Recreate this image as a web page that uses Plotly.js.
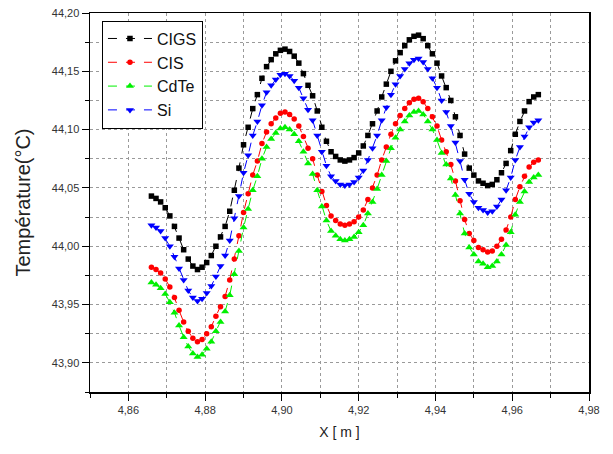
<!DOCTYPE html>
<html>
<head>
<meta charset="utf-8">
<script src="https://cdn.plot.ly/plotly-3.0.1.min.js"></script>
<style>html,body{margin:0;padding:0;background:#fff;}#chart{width:613px;height:454px;}</style>
</head>
<body>
<div id="chart"></div>
<script>
const xPos = [4.8660,4.8672,4.8684,4.8696,4.8708,4.8720,4.8732,4.8744,4.8756,4.8768,
4.8780,4.8792,4.8804,4.8816,4.8828,4.8840,4.8852,4.8864,4.8876,4.8888,
4.8900,4.8912,4.8924,4.8936,4.8948,4.8960,4.8972,4.8984,4.8996,4.9008,
4.9020,4.9032,4.9044,4.9056,4.9068,4.9080,4.9092,4.9104,4.9116,4.9128,
4.9140,4.9152,4.9164,4.9176,4.9188,4.9200,4.9212,4.9224,4.9236,4.9248,
4.9260,4.9272,4.9284,4.9296,4.9308,4.9320,4.9332,4.9344,4.9356,4.9368,
4.9380,4.9392,4.9404,4.9416,4.9428,4.9440,4.9452,4.9464,4.9476,4.9488,
4.9500,4.9512,4.9524,4.9536,4.9548,4.9560,4.9572,4.9584,4.9596,4.9608,
4.9620,4.9632,4.9644,4.9656,4.9668];

const tCIGS = [44.043,44.041,44.038,44.033,44.026,44.017,44.007,43.997,43.989,43.983,
43.980,43.982,43.986,43.992,44.000,44.008,44.017,44.030,44.048,44.067,
44.087,44.102,44.118,44.130,44.144,44.154,44.160,44.165,44.168,44.169,
44.167,44.163,44.157,44.148,44.138,44.129,44.116,44.102,44.090,44.081,
44.077,44.074,44.073,44.074,44.076,44.080,44.086,44.095,44.105,44.116,
44.128,44.139,44.150,44.159,44.166,44.172,44.177,44.180,44.181,44.178,
44.172,44.165,44.157,44.146,44.136,44.125,44.111,44.095,44.079,44.067,
44.061,44.056,44.054,44.052,44.053,44.057,44.063,44.071,44.082,44.096,
44.107,44.116,44.124,44.128,44.130];

const tCIS = [43.982,43.980,43.977,43.972,43.965,43.956,43.945,43.935,43.927,43.921,
43.918,43.920,43.925,43.931,43.940,43.948,43.957,43.971,43.989,44.009,
44.029,44.045,44.061,44.073,44.088,44.098,44.105,44.110,44.114,44.115,
44.113,44.109,44.103,44.094,44.084,44.075,44.061,44.047,44.035,44.026,
44.022,44.019,44.018,44.019,44.021,44.025,44.031,44.040,44.050,44.061,
44.074,44.085,44.096,44.105,44.112,44.118,44.123,44.126,44.127,44.124,
44.118,44.111,44.103,44.091,44.081,44.070,44.056,44.039,44.023,44.011,
44.005,43.999,43.997,43.995,43.996,44.000,44.006,44.014,44.025,44.040,
44.051,44.060,44.068,44.072,44.074];

const tCdTe = [43.969,43.967,43.964,43.959,43.952,43.943,43.932,43.922,43.914,43.908,
43.905,43.907,43.912,43.918,43.927,43.935,43.944,43.958,43.976,43.996,
44.016,44.032,44.048,44.060,44.075,44.085,44.092,44.097,44.101,44.102,
44.100,44.096,44.090,44.081,44.071,44.062,44.048,44.034,44.022,44.013,
44.009,44.006,44.005,44.006,44.008,44.012,44.018,44.028,44.038,44.049,
44.061,44.073,44.084,44.093,44.100,44.107,44.112,44.115,44.116,44.113,
44.107,44.100,44.091,44.080,44.070,44.058,44.044,44.028,44.011,43.999,
43.993,43.987,43.985,43.982,43.983,43.987,43.993,44.001,44.012,44.027,
44.038,44.047,44.055,44.059,44.061];

const tSi = [44.018,44.016,44.013,44.007,44.000,43.991,43.981,43.971,43.962,43.956,
43.953,43.955,43.960,43.966,43.974,43.983,43.992,44.005,44.024,44.043,
44.063,44.078,44.095,44.107,44.121,44.132,44.138,44.143,44.147,44.148,
44.146,44.142,44.136,44.127,44.117,44.108,44.095,44.081,44.069,44.060,
44.056,44.053,44.052,44.053,44.055,44.059,44.065,44.074,44.084,44.095,
44.108,44.119,44.130,44.139,44.146,44.152,44.157,44.160,44.161,44.158,
44.152,44.144,44.136,44.125,44.115,44.103,44.089,44.073,44.057,44.045,
44.038,44.033,44.031,44.029,44.030,44.034,44.040,44.048,44.059,44.074,
44.085,44.094,44.102,44.106,44.108];

const seriesNames = ["CIGS", "CIS", "CdTe", "Si"];
const xTickVals = [4.86, 4.88, 4.90, 4.92, 4.94, 4.96, 4.98];
const yTickVals = [43.90, 43.95, 44.00, 44.05, 44.10, 44.15, 44.20];

const styles = [
  {color: "#000000", symbol: "square", size: 5.5},
  {color: "#ff0000", symbol: "circle", size: 5.5},
  {color: "#00f000", symbol: "triangle-up", size: 7},
  {color: "#0000ff", symbol: "triangle-down", size: 7}
];
const ys = [tCIGS, tCIS, tCdTe, tSi];

const traces = ys.map((y, i) => ({
  x: xPos, y: y, name: seriesNames[i], type: "scatter", mode: "lines+markers",
  line: {color: styles[i].color, width: 1, dash: "dash"},
  marker: {color: styles[i].color, symbol: styles[i].symbol, size: styles[i].size}
}));

const gridCol = "#9a9a9a";
const layout = {
  width: 613, height: 454,
  margin: {l: 90, r: 24, t: 13, b: 62},
  paper_bgcolor: "#fff", plot_bgcolor: "#fff",
  separators: ", ",
  font: {family: "Liberation Sans, Arial, sans-serif", color: "#222", size: 11},
  showlegend: true,
  legend: {
    x: 0.024, y: 0.98, xanchor: "left", yanchor: "top",
    bgcolor: "#fff", bordercolor: "#000", borderwidth: 1,
    font: {size: 16, color: "#111"}, tracegroupgap: 0, itemwidth: 44
  },
  xaxis: {
    range: [4.85, 4.98], tickvals: xTickVals, tickformat: ".2f",
    ticks: "outside", ticklen: 7, tickwidth: 1, tickcolor: "#000",
    showline: true, linecolor: "#000", linewidth: 1.5, mirror: true,
    showgrid: true, gridcolor: gridCol, griddash: "dot", gridwidth: 1,
    zeroline: false,
    minor: {dtick: 0.01, tick0: 4.85, ticks: "outside", ticklen: 4, tickcolor: "#000", showgrid: true, gridcolor: gridCol, griddash: "dot", gridwidth: 1},
    tickfont: {size: 11, color: "#333"},
    title: {text: "X [ m ]", font: {size: 14, color: "#222"}, standoff: 12}
  },
  yaxis: {
    range: [43.875, 44.2], tickvals: yTickVals, tickformat: ".2f",
    ticks: "outside", ticklen: 7, tickwidth: 1, tickcolor: "#000",
    showline: true, linecolor: "#000", linewidth: 1.5, mirror: true,
    showgrid: true, gridcolor: gridCol, griddash: "dot", gridwidth: 1,
    zeroline: false,
    minor: {dtick: 0.025, tick0: 43.875, ticks: "outside", ticklen: 4, tickcolor: "#000", showgrid: true, gridcolor: gridCol, griddash: "dot", gridwidth: 1},
    tickfont: {size: 11, color: "#333"},
    title: {text: "Température(°C)", font: {size: 20, color: "#222"}, standoff: 16}
  }
};

Plotly.newPlot("chart", traces, layout, {displayModeBar: false, staticPlot: true});
</script>
</body>
</html>
